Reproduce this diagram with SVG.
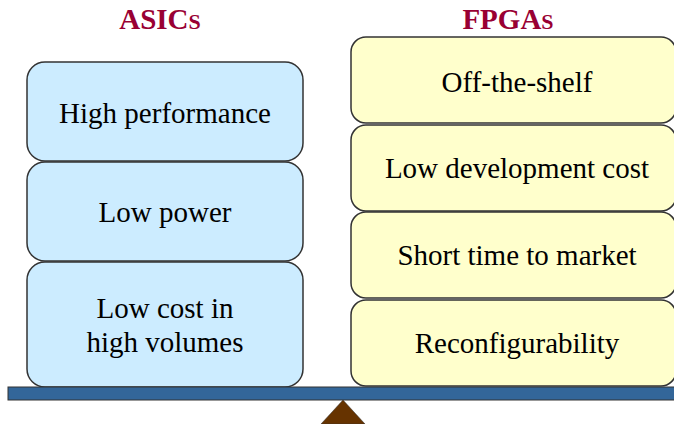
<svg xmlns="http://www.w3.org/2000/svg" width="674" height="424" viewBox="0 0 674 424">
<style>
.asic{fill:#CCECFF;stroke:#333;stroke-width:1.5}
.fpga{fill:#FFFFCC;stroke:#333;stroke-width:1.5}
.t{font-family:"Liberation Serif","Times New Roman",serif;font-size:29px;fill:#000;text-anchor:middle}
.h{font-family:"Liberation Serif","Times New Roman",serif;font-weight:bold;fill:#990033;text-anchor:middle;font-size:29px}
</style>
<rect width="674" height="424" fill="#fff"/>
<text class="h" x="160" y="29">ASIC<tspan font-size="22">S</tspan></text>
<text class="h" x="508" y="29">FPGA<tspan font-size="22">S</tspan></text>
<g id="asic1"><rect class="asic" x="27" y="62" width="276" height="99" rx="18"/><text class="t" x="165" y="123">High performance</text></g>
<g id="asic2"><rect class="asic" x="27" y="162" width="276" height="99" rx="18"/><text class="t" x="165" y="222">Low power</text></g>
<g id="asic3"><rect class="asic" x="27" y="262" width="276" height="125" rx="18"/><text class="t" x="165" y="318">Low cost in</text><text class="t" x="165" y="352">high volumes</text></g>
<g id="fpga1"><rect class="fpga" x="351" y="37" width="325" height="86" rx="15"/><text class="t" x="517" y="92">Off-the-shelf</text></g>
<g id="fpga2"><rect class="fpga" x="351" y="125" width="325" height="86" rx="15"/><text class="t" x="517" y="178">Low development cost</text></g>
<g id="fpga3"><rect class="fpga" x="351" y="212" width="325" height="86" rx="15"/><text class="t" x="517" y="265">Short time to market</text></g>
<g id="fpga4"><rect class="fpga" x="351" y="300" width="325" height="86" rx="15"/><text class="t" x="517" y="353">Reconfigurability</text></g>
<g id="connectors"></g>
<g id="scale">
<rect x="8" y="387" width="670" height="13" fill="#336699" stroke="#333" stroke-width="1"/>
<polygon points="343,400 365,424 321,424" fill="#663300" stroke="#333" stroke-width="0.5"/>
</g>
</svg>
